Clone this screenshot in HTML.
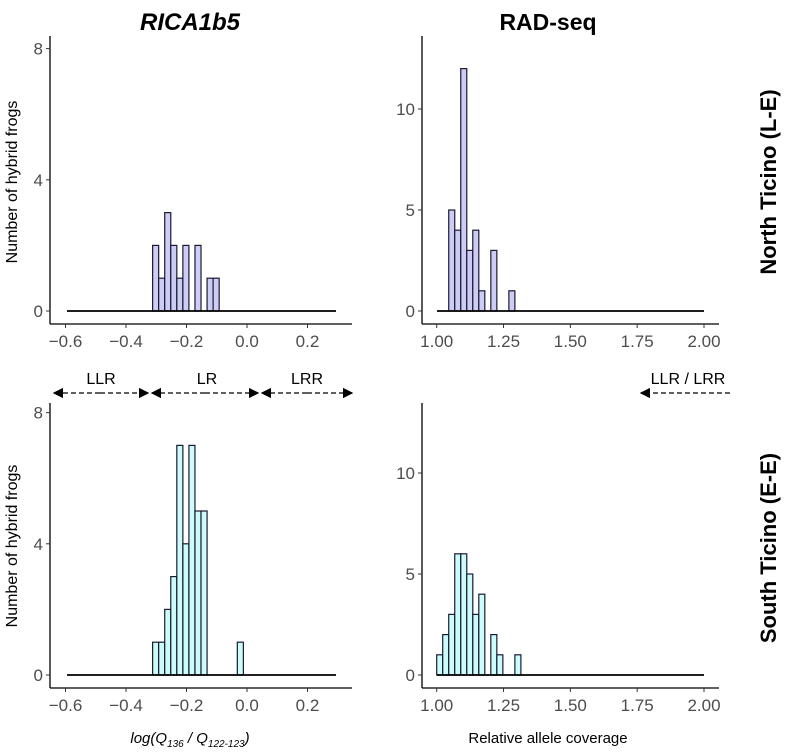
<!DOCTYPE html>
<html><head><meta charset="utf-8"><style>
body{margin:0;background:#fff}
text{font-family:"Liberation Sans",Arial,sans-serif}
</style></head><body>
<svg id="c" width="787" height="750" viewBox="0 0 787 750" xmlns="http://www.w3.org/2000/svg">
<defs><marker id="ah" markerWidth="8" markerHeight="8" refX="7" refY="4" orient="auto"><path d="M0,0 L8,4 L0,8 Z" fill="#000"/></marker></defs>
<text x="190" y="30" text-anchor="middle" font-size="24" font-weight="bold" font-style="italic">RICA1b5</text>
<text x="548" y="30" text-anchor="middle" font-size="23" font-weight="bold">RAD-seq</text>
<text transform="translate(776,182) rotate(-90)" text-anchor="middle" font-size="22" font-weight="bold">North Ticino (L-E)</text>
<text transform="translate(776,548) rotate(-90)" text-anchor="middle" font-size="22" font-weight="bold">South Ticino (E-E)</text>
<text transform="translate(17,182) rotate(-90)" text-anchor="middle" font-size="16">Number of hybrid frogs</text>
<text transform="translate(17,546) rotate(-90)" text-anchor="middle" font-size="16">Number of hybrid frogs</text>
<text x="190" y="743" text-anchor="middle" font-size="15" font-style="italic">log(Q<tspan font-size="10" dy="4">136</tspan><tspan dy="-4"> / Q</tspan><tspan font-size="10" dy="4">122-123</tspan><tspan dy="-4">)</tspan></text>
<text x="548" y="743" text-anchor="middle" font-size="15">Relative allele coverage</text>
<g font-size="16">
<text x="101" y="384" text-anchor="middle">LLR</text>
<text x="207" y="384" text-anchor="middle">LR</text>
<text x="307" y="384" text-anchor="middle">LRR</text>
<text x="688" y="384" text-anchor="middle">LLR / LRR</text>
<line x1="100" y1="393" x2="54" y2="393" stroke="#000" stroke-width="1.3" stroke-dasharray="5,3" marker-end="url(#ah)"/>
<line x1="100" y1="393" x2="148" y2="393" stroke="#000" stroke-width="1.3" stroke-dasharray="5,3" marker-end="url(#ah)"/>
<line x1="205" y1="393" x2="152" y2="393" stroke="#000" stroke-width="1.3" stroke-dasharray="5,3" marker-end="url(#ah)"/>
<line x1="205" y1="393" x2="258" y2="393" stroke="#000" stroke-width="1.3" stroke-dasharray="5,3" marker-end="url(#ah)"/>
<line x1="307" y1="393" x2="262" y2="393" stroke="#000" stroke-width="1.3" stroke-dasharray="5,3" marker-end="url(#ah)"/>
<line x1="307" y1="393" x2="352" y2="393" stroke="#000" stroke-width="1.3" stroke-dasharray="5,3" marker-end="url(#ah)"/>
<line x1="730" y1="393" x2="641" y2="393" stroke="#000" stroke-width="1.3" stroke-dasharray="5,3" marker-end="url(#ah)"/>
</g>
</svg>
<script>
// data
const northRicaCounts = [2,1,3,2,1,2,0,2,0,1,1];
const northRicaStart = -0.312;
const southRicaCounts = [1,1,2,3,7,4,7,5,5,0,0,0,0,0,1];
const southRicaStart = -0.312;
const ricaBin = 0.02;
const northRadCounts = [5,4,12,3,4,1,0,3,0,0,1];
const northRadStart = 1.045;
const southRadCounts = [1,2,3,6,6,5,3,4,0,2,1,0,0,1];
const southRadStart = 1.0;
const radBin = 0.0225;
const ricaTicks = [-0.6,-0.4,-0.2,0.0,0.2];
const radTicks = [1.00,1.25,1.50,1.75,2.00];
const ricaYTicks = [0,4,8];
const radYTicks = [0,5,10];

const svg = document.getElementById('c');
const NS = 'http://www.w3.org/2000/svg';
function mk(tag, attrs, parent){
  const e = document.createElementNS(NS, tag);
  for (const k in attrs) e.setAttribute(k, attrs[k]);
  (parent||svg).appendChild(e); return e;
}
function panel(p){
  const g = mk('g', {});
  
  
  const sx = v => p.x0 + (v - p.d0) * p.kx;
  const sy = v => p.y0 - v * p.ky;
  const ya = mk('line', {x1:p.ax, y1:p.top, x2:p.ax, y2:p.axY, stroke:'#000','stroke-width':1.3}, g);
  
  
  const xa = mk('line', {x1:p.ax, y1:p.axY, x2:p.axEnd, y2:p.axY, stroke:'#000','stroke-width':1.3}, g);
  
  
  p.xt.forEach(t => {
    const x = sx(t);
    mk('line', {x1:x, y1:p.axY, x2:x, y2:p.axY+4, stroke:'#333'}, g);
    const tx = mk('text', {x:x, y:p.axY+23, 'text-anchor':'middle','font-size':17, fill:'#4d4d4d'}, g);
    tx.textContent = p.fmt(t);
    
    
  });
  p.yt.forEach(t => {
    const y = sy(t);
    mk('line', {x1:p.ax-4, y1:y, x2:p.ax, y2:y, stroke:'#333'}, g);
    const tx = mk('text', {x:p.ax-7, y:y+6, 'text-anchor':'end','font-size':17, fill:'#4d4d4d'}, g);
    tx.textContent = t;
    
    
  });
  p.counts.forEach((c, i) => {
    if (!c) return;
    const a = sx(p.start + i * p.bin), b = sx(p.start + (i+1) * p.bin);
    const r = mk('rect', {x:a, y:sy(c), width:b-a, height:sy(0)-sy(c), fill:p.fill, stroke:'#1a1a33','stroke-width':1.2}, g);
    
    
  });
  const bl = mk('line', {x1:p.bl0, y1:sy(0), x2:p.bl1, y2:sy(0), stroke:'#000','stroke-width':1.8}, g);
  
  
}
const fmtR = t => (t<0?'\u2212':'') + Math.abs(t).toFixed(1);
const fmtD = t => t.toFixed(2);
panel({name:'panel-north-rica', x0:65.5, d0:-0.6, kx:302.5, y0:311, ky:32.8, ax:50, axY:324, axEnd:352, top:36,
  xt:ricaTicks, yt:ricaYTicks, fmt:fmtR, counts:northRicaCounts, start:northRicaStart, bin:ricaBin, fill:'#ccccf5', bl0:67, bl1:336});
panel({name:'panel-south-rica', x0:65.5, d0:-0.6, kx:302.5, y0:675, ky:32.8, ax:50, axY:688, axEnd:352, top:403,
  xt:ricaTicks, yt:ricaYTicks, fmt:fmtR, counts:southRicaCounts, start:southRicaStart, bin:ricaBin, fill:'#ccfcfa', bl0:67, bl1:336});
panel({name:'panel-north-rad', x0:436.7, d0:1.0, kx:267.3, y0:311, ky:20.2, ax:422, axY:324, axEnd:719, top:36,
  xt:radTicks, yt:radYTicks, fmt:fmtD, counts:northRadCounts, start:northRadStart, bin:radBin, fill:'#ccccf5', bl0:437, bl1:704});
panel({name:'panel-south-rad', x0:436.7, d0:1.0, kx:267.3, y0:675, ky:20.2, ax:422, axY:688, axEnd:719, top:403,
  xt:radTicks, yt:radYTicks, fmt:fmtD, counts:southRadCounts, start:southRadStart, bin:radBin, fill:'#ccfcfa', bl0:437, bl1:704});
</script>
</body></html>
